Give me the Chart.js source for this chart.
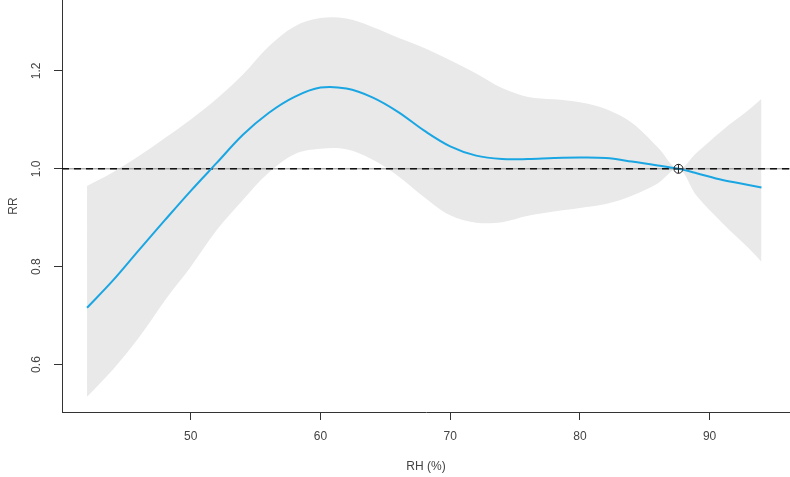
<!DOCTYPE html>
<html lang="en">
<head>
    <meta charset="UTF-8">
    <title>RR by RH</title>
    <script src="https://cdn.jsdelivr.net/npm/chart.js"></script>
    <style>
        html, body { margin: 0; padding: 0; background: #fff; }
        canvas { display: block; }
    </style>
    <script>
        // values
        const rh = [42, 44, 46, 48, 50, 52, 54, 56, 58, 60, 62, 64, 66, 68, 70, 72, 74, 76, 78, 80, 82, 84, 86, 87.6, 89, 91, 93, 94];
        const rr = [0.716, 0.772, 0.834, 0.895, 0.955, 1.012, 1.069, 1.114, 1.147, 1.166, 1.164, 1.146, 1.116, 1.078, 1.046, 1.027, 1.020, 1.020, 1.022, 1.023, 1.022, 1.015, 1.007, 1.000, 0.991, 0.977, 0.967, 0.962];
        const rrUpper = [0.965, 0.993, 1.026, 1.063, 1.101, 1.143, 1.192, 1.250, 1.291, 1.308, 1.307, 1.290, 1.268, 1.247, 1.222, 1.195, 1.165, 1.147, 1.142, 1.136, 1.122, 1.094, 1.044, 1.000, 1.033, 1.079, 1.120, 1.143];
        const rrLower = [0.534, 0.590, 0.655, 0.731, 0.800, 0.875, 0.936, 0.992, 1.030, 1.041, 1.040, 1.019, 0.985, 0.942, 0.905, 0.890, 0.891, 0.904, 0.913, 0.920, 0.928, 0.945, 0.970, 1.000, 0.945, 0.889, 0.838, 0.810];

        const refRH = 87.6;
        const refRR = 1.0;

        const xTicks = [50, 60, 70, 80, 90];
        const yTicks = [0.6, 0.8, 1.0, 1.2];
        const xRange = [40.07, 96.2];
        const yRange = [0.503, 1.345];

        function pts(ys) {
            return rh.map((x, i) => ({ x: x, y: ys[i] }));
        }

        window.onload = function() {
            const ctx = document.getElementById('chart').getContext('2d');
            const axisColor = '#333333';
            const textColor = '#444444';
            const font = { family: 'Liberation Sans, Arial, sans-serif', size: 12 };

            new Chart(ctx, {
                type: 'line',
                data: {
                    datasets: [
                        {
                            data: pts(rrUpper),
                            borderWidth: 0,
                            pointRadius: 0,
                            backgroundColor: '#e9e9e9',
                            fill: '+1',
                            tension: 0.35,
                            order: 5
                        },
                        {
                            data: pts(rrLower),
                            borderWidth: 0,
                            pointRadius: 0,
                            fill: false,
                            tension: 0.35,
                            order: 6
                        },
                        {
                            data: xRange.map(x => ({ x: x, y: refRR })),
                            borderColor: '#8a8a8a',
                            borderWidth: 1,
                            pointRadius: 0,
                            fill: false,
                            order: 4
                        },
                        {
                            data: xRange.map(x => ({ x: x, y: refRR })),
                            borderColor: '#111111',
                            borderWidth: 1.6,
                            borderDash: [7, 5],
                            pointRadius: 0,
                            fill: false,
                            order: 3
                        },
                        {
                            data: pts(rr),
                            borderColor: '#1aa6e2',
                            borderWidth: 2,
                            pointRadius: 0,
                            fill: false,
                            tension: 0.35,
                            order: 2
                        },
                        {
                            data: [{ x: refRH, y: refRR }],
                            showLine: false,
                            pointStyle: 'circle',
                            pointRadius: 4.5,
                            pointBorderColor: '#222222',
                            pointBorderWidth: 1,
                            pointBackgroundColor: 'rgba(0,0,0,0)',
                            order: 1
                        },
                        {
                            data: [{ x: refRH, y: refRR }],
                            showLine: false,
                            pointStyle: 'cross',
                            pointRadius: 4.5,
                            pointBorderColor: '#222222',
                            pointBorderWidth: 1,
                            order: 0
                        }
                    ]
                },
                options: {
                    responsive: false,
                    animation: false,
                    devicePixelRatio: 1,
                    layout: { padding: 0, autoPadding: false },
                    plugins: {
                        legend: { display: false },
                        tooltip: { enabled: false }
                    },
                    scales: {
                        x: {
                            type: 'linear',
                            min: xRange[0],
                            max: xRange[1],
                            afterBuildTicks: s => { s.ticks = xTicks.map(v => ({ value: v })); },
                            afterFit: s => { s.height = 65; s.paddingLeft = 0; s.paddingRight = 0; },
                            border: { display: true, color: axisColor, width: 1 },
                            grid: { drawOnChartArea: false, drawTicks: true, tickLength: 8, color: axisColor },
                            ticks: { color: textColor, padding: 9, maxRotation: 0, font: font },
                            title: {
                                display: true,
                                text: 'RH (%)',
                                color: textColor,
                                padding: { top: 0, bottom: 3 },
                                font: font
                            }
                        },
                        y: {
                            type: 'linear',
                            min: yRange[0],
                            max: yRange[1],
                            afterBuildTicks: s => { s.ticks = yTicks.map(v => ({ value: v })); },
                            afterFit: s => { s.width = 62; s.paddingTop = 0; s.paddingBottom = 0; },
                            border: { display: true, color: axisColor, width: 1 },
                            grid: { drawOnChartArea: false, drawTicks: true, tickLength: 8, color: axisColor },
                            ticks: {
                                color: textColor,
                                padding: 9,
                                minRotation: 90,
                                maxRotation: 90,
                                crossAlign: 'center',
                                callback: v => v.toFixed(1),
                                font: font
                            },
                            title: {
                                display: true,
                                text: 'RR',
                                color: textColor,
                                padding: { top: 6, bottom: 0 },
                                font: font
                            }
                        }
                    }
                }
            });
        }
    </script>
</head>
<body>
    <canvas id="chart" width="790" height="477"></canvas>
</body>
</html>
